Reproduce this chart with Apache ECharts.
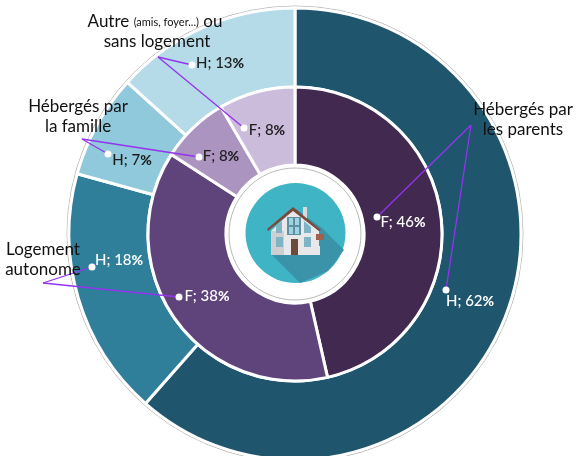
<!DOCTYPE html>
<html>
<head>
<meta charset="utf-8">
<style>
    html, body { margin: 0; padding: 0; background: #fff; }
    #container { width: 577px; height: 456px; }
</style>
<script src="https://cdn.jsdelivr.net/npm/echarts@6/dist/echarts.min.js"></script>
</head>
<body>
<div id="container"></div>
<script>
// categories, clockwise from the top of the ring
var categories = ['Hébergés par les parents', 'Logement autonome', 'Hébergés par la famille', 'Autre ou sans logement'];
// labels show them rounded
var hommes = [61.5, 17.8, 7.4, 13.3];
var femmes = [46.4, 37.6, 7.5, 8.4];

var colorsH = ['#1f566e', '#2f7f9b', '#8fc9db', '#b4dbe7'];
var colorsF = ['#41294f', '#5f437b', '#ac94c0', '#cbbcdc'];
var labelColorsH = ['#fff', '#fff', '#1d1d1d', '#1d1d1d'];
var labelColorsF = ['#fff', '#fff', '#1d1d1d', '#1d1d1d'];
// label centres, hand placed like the original
var labelPosH = [[470, 301], [119, 260], [132, 160], [220, 63]];
var labelPosF = [[403, 222], [207, 296], [221, 156], [267, 130]];

// annotations: [apex, dot, dot]
var leaders = [
    [[471, 125], [377, 217], [446, 290]],
    [[43, 283], [92, 267], [179, 297]],
    [[82, 139], [108, 154], [199, 157]],
    [[158, 57], [192, 65], [244, 128]]
];
var captions = [
    { x: 523, y: 110, t: 'Hébergés par' },
    { x: 523, y: 130, t: 'les parents' },
    { x: 43, y: 250, t: 'Logement' },
    { x: 43, y: 270, t: 'autonome' },
    { x: 78, y: 107, t: 'Hébergés par' },
    { x: 78, y: 127, t: 'la famille' },
    { x: 157, y: 42, t: 'sans logement' }
];

var font = 'Lato';
var cx = 295, cy = 234;

function ring(letter, values, colors, labelColors, labelPos, radius, borderWidth) {
    return {
        type: 'pie',
        startAngle: 90,
        clockwise: true,
        center: [cx, cy],
        radius: radius,
        silent: true,
        animation: false,
        labelLine: { show: false },
        label: {
            show: true,
            position: 'inside',
            fontFamily: font,
            fontSize: 15,
            fontWeight: 500,
            formatter: function (p) {
                return letter + '; ' + Math.round(p.value) + '{pc|%}';
            },
            rich: { pc: { fontFamily: font, fontSize: 14, fontWeight: 900 } }
        },
        labelLayout: function (p) {
            return { x: labelPos[p.dataIndex][0], y: labelPos[p.dataIndex][1], align: 'center', verticalAlign: 'middle' };
        },
        itemStyle: { borderColor: '#fff', borderWidth: borderWidth },
        data: values.map(function (v, i) {
            return {
                name: categories[i],
                value: v,
                itemStyle: { color: colors[i] },
                label: { color: labelColors[i], rich: { pc: { color: labelColors[i] } } }
            };
        })
    };
}

function circle(x, y, r, style, z) {
    return { type: 'circle', shape: { cx: x, cy: y, r: r }, style: style, z: z, silent: true };
}
function poly(points, fill, z) {
    return { type: 'polygon', shape: { points: points }, style: { fill: fill }, z: z, silent: true };
}
function box(x, y, w, h, fill, z) {
    return { type: 'rect', shape: { x: x, y: y, width: w, height: h }, style: { fill: fill }, z: z, silent: true };
}

var graphics = [
    // thin rings
    circle(cx, cy, 228, { fill: 'none', stroke: '#b9b9b9', lineWidth: 1 }, 0),
    circle(cx, cy, 66, { fill: 'none', stroke: '#b9b9b9', lineWidth: 1 }, 3),
    // house badge
    circle(295.5, 233, 50, { fill: '#3fb4c4' }, 3),
    poly([[296, 209], [322, 228], [344, 250], [328, 271], [300, 283], [272, 255]], '#3a93a9', 4),
    poly([[293, 210], [319, 231], [319, 255], [271, 255], [271, 231]], '#e8e8ea', 5),
    box(271, 231, 13, 24, '#cfcfd3', 5),
    box(303, 207, 4, 14, '#d9d9dc', 5),
    box(316, 234, 8, 6, '#a0604a', 5),
    box(314, 246, 6, 9, '#e8e8ea', 5),
    poly([[293, 207], [321, 230], [319, 231], [293, 211], [268, 231], [267, 229]], '#7a4a3c', 6),
    box(287, 217, 14, 18, '#5f8fa3', 6),
    box(289, 218, 4, 7, '#9fd3e0', 7),
    box(295, 218, 4, 7, '#9fd3e0', 7),
    box(289, 227, 4, 7, '#9fd3e0', 7),
    box(295, 227, 4, 7, '#9fd3e0', 7),
    poly([[276, 226], [282, 221], [282, 233], [276, 233]], '#7fb4c6', 6),
    poly([[304, 221], [311, 227], [311, 233], [304, 233]], '#7fb4c6', 6),
    box(276, 237, 7, 10, '#7fb4c6', 6),
    box(304, 237, 7, 10, '#7fb4c6', 6),
    box(291, 239, 7, 16, '#6d4a3a', 6),
    // first caption has a smaller part in brackets
    {
        type: 'text', z: 12, silent: true,
        style: {
            x: 155, y: 22, align: 'center', verticalAlign: 'middle',
            text: '{a|Autre }{b|(amis, foyer...)}{a| ou}',
            rich: {
                a: { fontFamily: font, fontSize: 17, fill: '#111' },
                b: { fontFamily: font, fontSize: 11, fill: '#111' }
            }
        }
    }
];

leaders.forEach(function (l) {
    [l[1], l[2]].forEach(function (dot) {
        graphics.push({
            type: 'line', z: 10, silent: true,
            shape: { x1: l[0][0], y1: l[0][1], x2: dot[0], y2: dot[1] },
            style: { stroke: '#9433f0', lineWidth: 1.3 }
        });
        graphics.push(circle(dot[0], dot[1], 3.5, { fill: '#fff' }, 11));
    });
});

captions.forEach(function (c) {
    graphics.push({
        type: 'text', z: 12, silent: true,
        style: { x: c.x, y: c.y, text: c.t, align: 'center', verticalAlign: 'middle', fontFamily: font, fontSize: 17, fill: '#111' }
    });
});

var myChart = echarts.init(document.getElementById('container'), null, { renderer: 'canvas' });
myChart.setOption({
    animation: false,
    graphic: { elements: graphics },
    series: [
        ring('H', hommes, colorsH, labelColorsH, labelPosH, [147, 226], 3),
        ring('F', femmes, colorsF, labelColorsF, labelPosF, [69, 147], 3)
    ]
});
</script>
</body>
</html>
